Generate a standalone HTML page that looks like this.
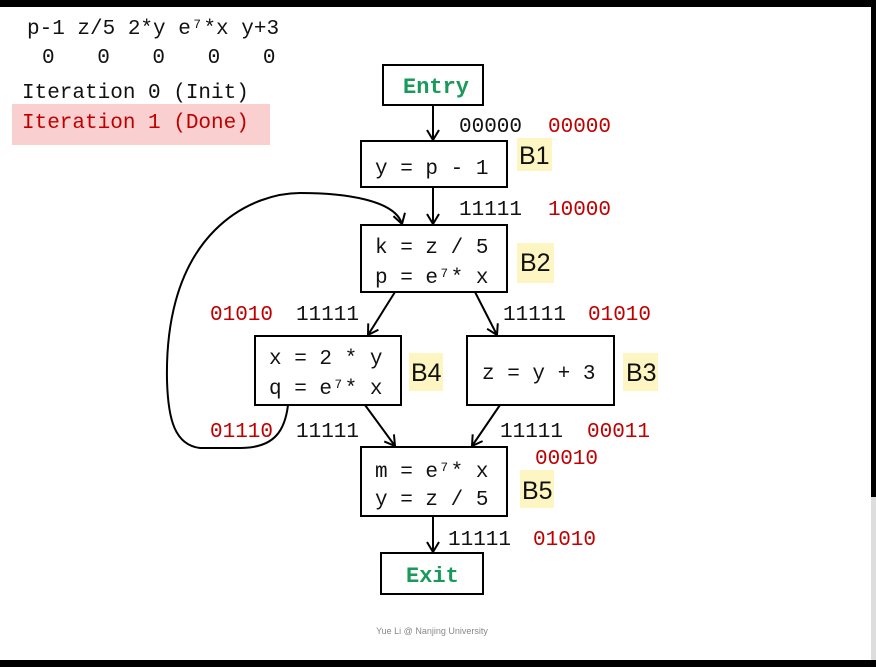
<!DOCTYPE html>
<html><head><meta charset="utf-8"><style>
html,body{margin:0;padding:0;background:#000;}
svg{display:block;}
text{font-family:"Liberation Mono","DejaVu Sans Mono",monospace;font-size:21px;white-space:pre;}
.r{fill:#c00000;}
.k{fill:#111;}
.s{font-family:"Liberation Sans",sans-serif;}
.bl{font-family:"Liberation Sans",sans-serif;font-size:25px;fill:#111;}
.ft{font-family:"Liberation Sans",sans-serif;font-size:9px;fill:#888;}
.en{font-family:"Liberation Mono",monospace;font-weight:bold;font-size:22px;fill:#1a9a5a;}
</style></head><body>
<svg width="876" height="667" viewBox="0 0 876 667">
<defs><marker id="ah" markerWidth="12" markerHeight="14" refX="11" refY="7" orient="auto" markerUnits="userSpaceOnUse"><path d="M1,1 L11,7 L1,13" fill="none" stroke="#000" stroke-width="2"/></marker></defs>
<rect x="0" y="7" width="871" height="653" fill="#fff"/>
<rect x="871" y="497" width="5" height="163" fill="#ddd"/>

<g>
<text x="27" y="34" class="k">p-1 z/5 2*y e⁷*x y+3</text>
<text x="42" y="63" class="k" style="letter-spacing:1.2px">0   0   0   0   0</text>
</g>
<text x="22" y="98" class="k">Iteration 0 (Init)</text>
<rect x="12" y="104" width="258" height="41" fill="#f9cfcf"/>
<text x="22" y="128" class="r">Iteration 1 (Done)</text>

<g fill="#fff" stroke="#000" stroke-width="2">
<rect x="383" y="65" width="100" height="40"/>
<rect x="361" y="141" width="146" height="46"/>
<rect x="361" y="225" width="146" height="67"/>
<rect x="255" y="336" width="146" height="69"/>
<rect x="467" y="336" width="147" height="69"/>
<rect x="361" y="447" width="146" height="69"/>
<rect x="381" y="553" width="102" height="41"/>
</g>
<text x="403" y="93" class="en">Entry</text>
<text x="406" y="582" class="en">Exit</text>

<g class="k">
<text x="375" y="174">y = p - 1</text>
<text x="375" y="253">k = z / 5</text>
<text x="375" y="283">p = e⁷* x</text>
<text x="269" y="364">x = 2 * y</text>
<text x="269" y="394">q = e⁷* x</text>
<text x="482" y="379">z = y + 3</text>
<text x="375" y="477">m = e⁷* x</text>
<text x="375" y="505">y = z / 5</text>
</g>

<g fill="#fdf6c3">
<rect x="517" y="138" width="35" height="33"/><rect x="517" y="243" width="37" height="40"/>
<rect x="409" y="353" width="34" height="38"/><rect x="623" y="353" width="35" height="38"/>
<rect x="520" y="470" width="34" height="38"/>
</g>
<text x="519" y="164" class="bl">B1</text>
<text x="520" y="271" class="bl">B2</text>
<text x="411" y="381" class="bl">B4</text>
<text x="626" y="381" class="bl">B3</text>
<text x="522" y="499" class="bl">B5</text>

<g stroke="#000" stroke-width="2" fill="none" marker-end="url(#ah)">
<line x1="433" y1="105" x2="433" y2="140"/>
<line x1="433" y1="187" x2="433" y2="224"/>
<line x1="395" y1="292" x2="368" y2="335"/>
<line x1="475" y1="292" x2="497" y2="335"/>
<line x1="365" y1="405" x2="395" y2="446"/>
<line x1="500" y1="405" x2="472" y2="446"/>
<line x1="433" y1="516" x2="433" y2="552"/>
<path d="M288,405 C285,430 275,448 240,448 L200,448 C175,445 168,420 167,380 C166,330 175,270 215,230 C245,200 280,193 300,193 C345,193 395,200 402,224"/>
</g>

<g>
<text x="459" y="132" class="k">00000</text><text x="548" y="132" class="r">00000</text>
<text x="459" y="215" class="k">11111</text><text x="548" y="215" class="r">10000</text>
<text x="210" y="320" class="r">01010</text><text x="296" y="320" class="k">11111</text>
<text x="503" y="320" class="k">11111</text><text x="588" y="320" class="r">01010</text>
<text x="210" y="437" class="r">01110</text><text x="296" y="437" class="k">11111</text>
<text x="500" y="437" class="k">11111</text><text x="587" y="437" class="r">00011</text>
<text x="535" y="464" class="r">00010</text>
<text x="448" y="545" class="k">11111</text><text x="533" y="545" class="r">01010</text>
</g>
<text x="432" y="634" text-anchor="middle" class="ft">Yue Li @ Nanjing University</text>
</svg>
</body></html>
